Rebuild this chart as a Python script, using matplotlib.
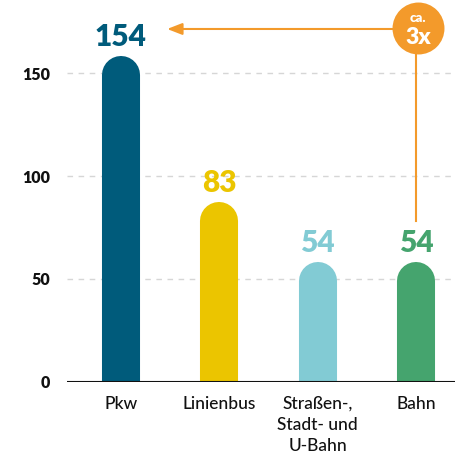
import numpy as np
import matplotlib.pyplot as plt

# Daten
kategorien = ['Pkw', 'Linienbus', 'Straßen-,\nStadt- und\nU-Bahn', 'Bahn']
werte = [154, 83, 54, 54]
farben = ['#005b7b', '#ebc500', '#82cbd4', '#45a46e']
y_ticks = [0, 50, 100, 150]
hinweis_oben = 'ca.'
hinweis_unten = '3x'

orange = '#f39a2b'
plt.rcParams['font.family'] = ['Lato', 'DejaVu Sans']

fig = plt.figure(figsize=(4.55, 4.53), dpi=100)
ax = fig.add_axes([67 / 455, 1 - 381.7 / 453, 1 - 67 / 455, 381.7 / 453])

x = np.arange(len(werte))
ax.set_xlim(-0.549, 3.398)
ax.set_ylim(0, 185.7)

# Gitterlinien
for t in y_ticks[1:]:
    ax.axhline(t, color='#d6d6d6', lw=1, ls=(0, (4, 4)), zorder=0)

# Balken mit runder Kappe (dicke Linie mit runder Linienkappe)
for xi, w, c in zip(x, werte, farben):
    ax.plot([xi, xi], [0, w - 5], color=c, lw=27.4,
            solid_capstyle='round', zorder=2)
    ax.annotate(str(w), (xi, w), xytext=(0, 20), textcoords='offset points',
                ha='center', va='center', fontsize=21.5, fontweight='heavy',
                color=c)

ax.axhline(0, color='#111111', lw=1.5, zorder=3)

# Hinweis ca. 3x
kreis_y = 172
ax.plot([x[3], x[3]], [kreis_y, 78], color=orange, lw=1.5, zorder=1)
ax.annotate('', xy=(0.47, 171.6), xytext=(x[3], 171.6),
            arrowprops=dict(arrowstyle='-|>,head_length=0.9,head_width=0.35',
                            color=orange, lw=1.5, shrinkA=0, shrinkB=0))
ax.plot(x[3] + 0.02, kreis_y, 'o', ms=37.4, color=orange, mec='none',
        zorder=4, clip_on=False)
ax.annotate(hinweis_oben, (x[3] + 0.02, kreis_y), xytext=(0, 7.5),
            textcoords='offset points', ha='center', va='center',
            fontsize=9.5, fontweight='heavy', color='white', zorder=5)
ax.annotate(hinweis_unten, (x[3] + 0.02, kreis_y), xytext=(0, -6.5),
            textcoords='offset points', ha='center', va='center',
            fontsize=16.5, fontweight='heavy', color='white', zorder=5)

# Achsen
ax.set_yticks(y_ticks)
ax.set_yticklabels([str(t) for t in y_ticks], fontsize=11.5,
                   fontweight='heavy', color='#111111')
ax.set_xticks(x)
ax.set_xticklabels(kategorien, fontsize=12.5, color='#111111',
                   fontweight='medium', linespacing=1.4, va='top')
ax.tick_params(axis='both', length=0)
ax.tick_params(axis='y', pad=12)
ax.tick_params(axis='x', pad=10)
for s in ax.spines.values():
    s.set_visible(False)

fig.savefig('out.png', dpi=100)
